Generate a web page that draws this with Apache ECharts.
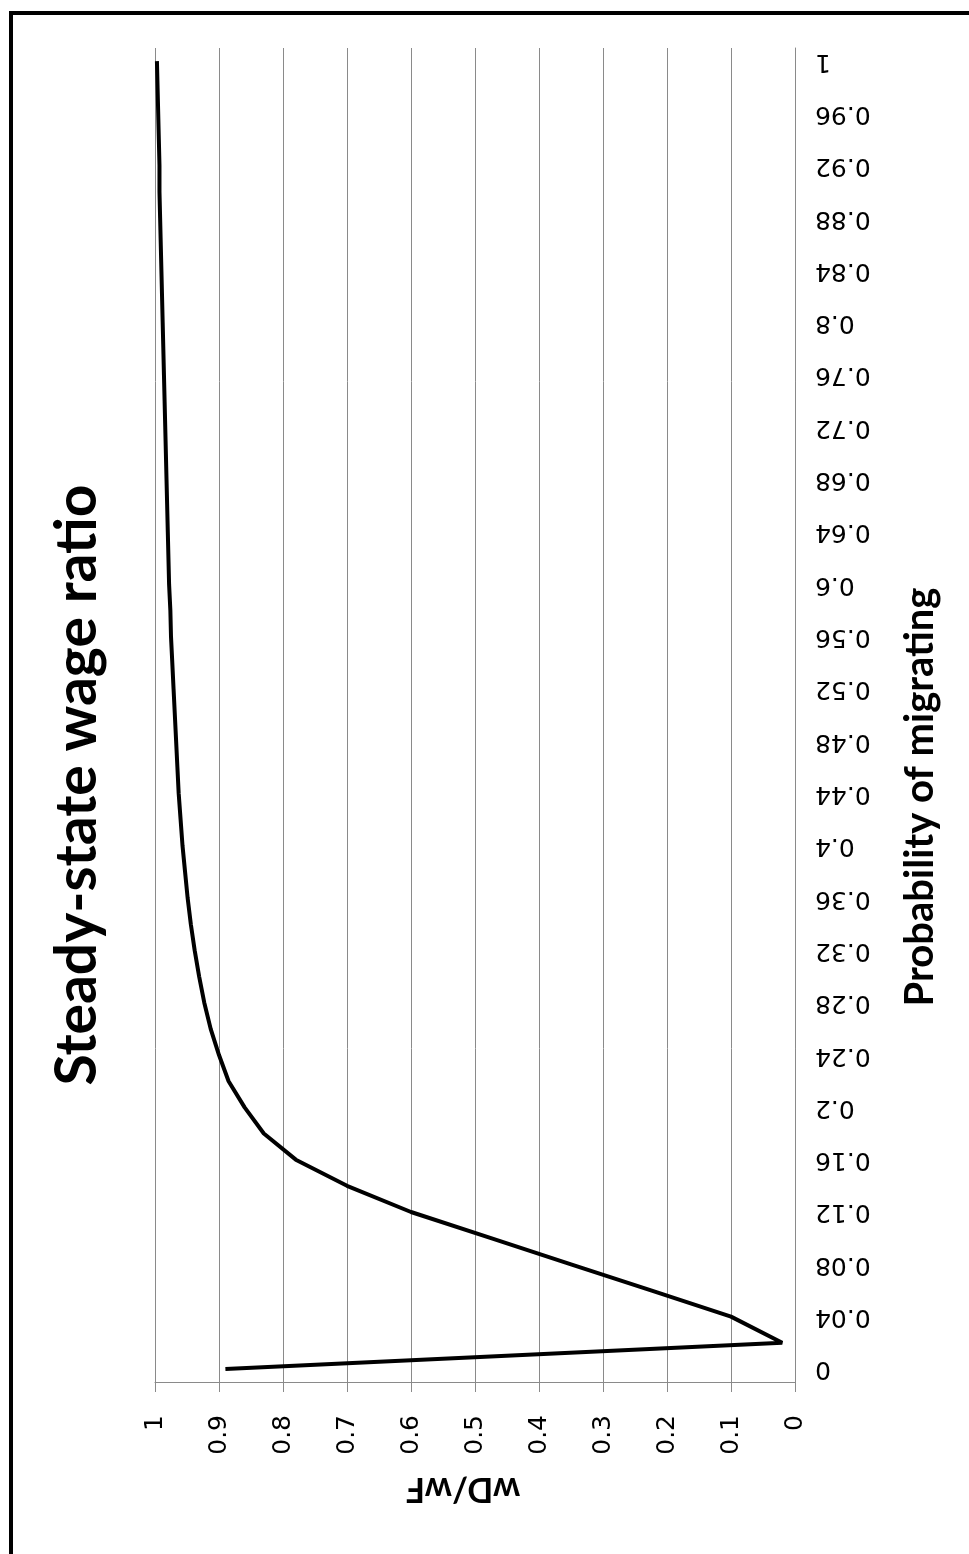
<!DOCTYPE html>
<html>
<head>
<meta charset="utf-8">
<script src="https://cdn.jsdelivr.net/npm/echarts@6/dist/echarts.min.js"></script>
<style>
html,body{margin:0;padding:0;background:#fff;}
#chart{width:969px;height:1554px;}
</style>
</head>
<body>
<div id="chart"></div>
<script>
// Probability of migrating (categories)
var probabilities = ['0','0.02','0.04','0.06','0.08','0.1','0.12','0.14','0.16','0.18',
  '0.2','0.22','0.24','0.26','0.28','0.3','0.32','0.34','0.36','0.38',
  '0.4','0.42','0.44','0.46','0.48','0.5','0.52','0.54','0.56','0.58',
  '0.6','0.62','0.64','0.66','0.68','0.7','0.72','0.74','0.76','0.78',
  '0.8','0.82','0.84','0.86','0.88','0.9','0.92','0.94','0.96','0.98','1'];
// wD/wF steady-state wage ratio
var wageRatio = [0.89,0.02,0.10,0.225,0.35,0.475,0.60,0.70,0.78,0.83,
  0.86,0.885,0.90,0.913,0.923,0.931,0.938,0.944,0.949,0.953,
  0.957,0.960,0.963,0.965,0.967,0.969,0.971,0.973,0.975,0.976,
  0.978,0.979,0.980,0.981,0.982,0.983,0.984,0.985,0.986,0.987,
  0.988,0.989,0.990,0.991,0.992,0.993,0.993,0.994,0.995,0.996,0.997];
var titleText = 'Steady-state wage ratio';
var xName = 'Probability of migrating';
var yName = 'wD/wF';

var chart = echarts.init(document.getElementById('chart'));
var grey = '#8a8a8a';
chart.setOption({
  backgroundColor: '#fff',
  animation: false,
  grid: {left: 155, right: 174, top: 48, bottom: 172},
  xAxis: {
    type: 'value', min: 0, max: 1, interval: 0.1, inverse: true, position: 'bottom',
    axisLine: {show: true, lineStyle: {color: grey, width: 1}},
    axisTick: {show: true, length: 10, lineStyle: {color: grey}},
    splitLine: {show: true, lineStyle: {color: grey, width: 1}},
    axisLabel: {rotate: 90, margin: 33, fontFamily: 'DejaVu Sans', fontSize: 25, color: '#000',
      align: 'right', verticalAlign: 'middle',
      formatter: function(v){ return String(Math.round(v*10)/10); }}
  },
  yAxis: {
    type: 'category', data: probabilities, position: 'right', boundaryGap: true,
    axisLine: {show: true, lineStyle: {color: grey, width: 1}},
    axisTick: {show: false},
    splitLine: {show: false},
    axisLabel: {interval: 1, rotate: 180, margin: 20, fontFamily: 'DejaVu Sans', fontSize: 25, color: '#000',
      align: 'right', verticalAlign: 'middle'}
  },
  series: [{
    type: 'line', data: wageRatio, symbol: 'none', smooth: false,
    lineStyle: {color: '#000', width: 4}
  }],
  graphic: [
    {type: 'rect', shape: {x: 11, y: 13, width: 2000, height: 2000}, silent: true,
     style: {fill: 'none', stroke: '#000', lineWidth: 4}},
    {type: 'text', x: 78, y: 785, rotation: Math.PI/2,
     style: {text: titleText, font: 'bold 57px Lato', fill: '#000', align: 'center', verticalAlign: 'middle'}},
    {type: 'text', x: 920, y: 797, rotation: Math.PI/2,
     style: {text: xName, font: 'bold 40px Lato', fill: '#000', align: 'center', verticalAlign: 'middle'}},
    {type: 'text', x: 463, y: 1489, rotation: Math.PI,
     style: {text: yName, font: 'bold 34px Lato', fill: '#000', align: 'center', verticalAlign: 'middle'}}
  ]
});
</script>
</body>
</html>
